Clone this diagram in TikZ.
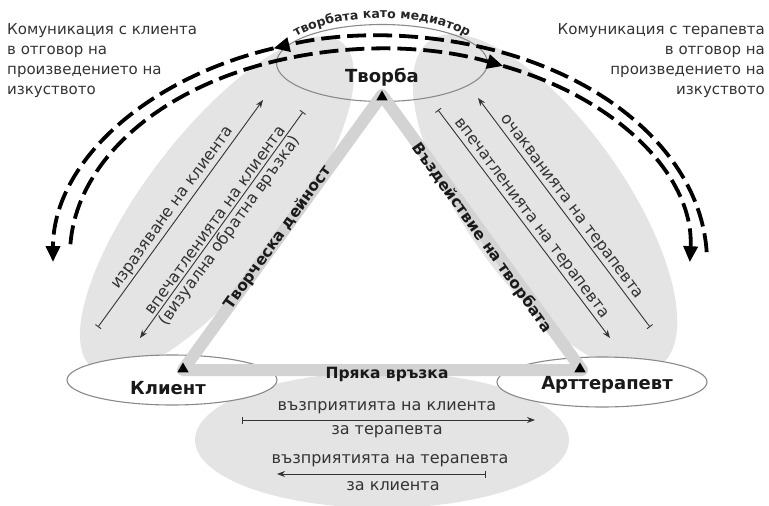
\documentclass[tikz,border=0pt]{standalone}
\usepackage{fontspec}
\setmainfont{DejaVu Sans}
\usetikzlibrary{arrows.meta,decorations.text,calc,shapes.geometric}
\definecolor{blob}{HTML}{E4E4E4}
\definecolor{band}{HTML}{D3D3D3}
\definecolor{ink}{HTML}{333333}
\definecolor{outl}{HTML}{8A8A8A}
\begin{document}
\begin{tikzpicture}[x=1pt,y=-1pt,
  vert/.style={ellipse, draw=outl, line width=1.1pt, inner sep=0},
  marker/.style={regular polygon, regular polygon sides=3, fill=black, inner sep=0, minimum size=13pt},
  bandline/.style={draw=band, line width=12pt, line join=round},
  vlabel/.style={font=\fontsize{18}{20}\selectfont\bfseries, text=black!90},
  blabel/.style={font=\fontsize{15.5}{18}\selectfont\bfseries, text=black!90},
  small/.style={font=\fontsize{16}{18}\selectfont, text=ink, inner sep=2pt},
  thin/.style={draw=ink, line width=0.9pt},
  corner/.style={font=\fontsize{15}{20}\selectfont, text=ink, inner sep=0},
  dasharc/.style={line width=3.8pt, dash pattern=on 19pt off 7pt, -{Triangle[length=16pt,width=14pt]}},
]
\useasboundingbox (0,0) rectangle (769,506);
% blobs
\fill[blob, rotate around={52.6:(217,205)}] (217,205) ellipse [x radius=205, y radius=72];
\fill[blob, rotate around={-54.7:(545,203)}] (545,203) ellipse [x radius=199, y radius=80];
\fill[blob] (382,440) ellipse [x radius=187, y radius=68];
% vertex ellipses
\node[vert, fill=white, minimum width=210pt, minimum height=50pt] (ek) at (172,380) {};
\node[vert, fill=white, minimum width=210pt, minimum height=50pt] (ea) at (602,382) {};
\node[vert, minimum width=211pt, minimum height=77pt] (et) at (382,63) {};
% triangle band
\coordinate (A) at (382,95);
\coordinate (K) at (183,370);
\coordinate (T) at (582,370);
\draw[bandline] (A) -- (K) -- (T) -- cycle;
\node[marker] (mA) at (382,97) {};
\node[marker] (mK) at (183,369) {};
\node[marker] (mT) at (580,369) {};
% vertex labels
\node[vlabel] (tvorba) at (382,77) {Творба};
\node[vlabel] (klient) at (168,388) {Клиент};
\node[vlabel] (art) at (607,385) {Арттерапевт};
\node[blabel] (pryaka) at (387,374) {Пряка връзка};
\node[blabel, rotate=54.4] (tvd) at (278,238) {Творческа дейност};
\node[blabel, rotate=-54.4] (vzd) at (482,238) {Въздействие на творбата};
% left blob lines
\coordinate (l1a) at (98,327); \coordinate (l1b) at (263,100);
\draw[thin, {Bar[width=7pt]}-{Stealth[length=8pt,width=6pt]}] (l1a) -- node[small, sloped, above] (t1) {изразяване на клиента} (l1b);
\coordinate (l2a) at (140,338); \coordinate (l2b) at (303,112);
\draw[thin, {Stealth[length=8pt,width=6pt]}-{Bar[width=7pt]}] (l2a) -- node[small, sloped, above] (t2) {впечатленията на клиента} node[small, sloped, below] (t3) {(визуална обратна връзка)} (l2b);
% right blob lines
\coordinate (r1a) at (478,98); \coordinate (r1b) at (650,327);
\draw[thin, {Stealth[length=8pt,width=6pt]}-{Bar[width=7pt]}] (r1a) -- node[small, sloped, above] (t4) {очакванията на терапевта} (r1b);
\coordinate (r2a) at (438,110); \coordinate (r2b) at (610,338);
\draw[thin, {Bar[width=7pt]}-{Stealth[length=8pt,width=6pt]}] (r2a) -- node[small, sloped, above] (t5) {впечатленията на терапевта} (r2b);
% bottom lines
\coordinate (b1a) at (242,420); \coordinate (b1b) at (535,420);
\draw[thin, {Bar[width=7pt]}-{Stealth[length=8pt,width=6pt]}] (b1a) -- (b1b);
\node[small] (bt1) at (387,408) {възприятията на клиента};
\node[small] (bt2) at (387,432) {за терапевта};
\coordinate (b2a) at (486,474); \coordinate (b2b) at (277,474);
\draw[thin, {Bar[width=7pt]}-{Stealth[length=8pt,width=6pt]}] (b2a) -- (b2b);
\node[small] (bt3) at (390,461) {възприятията на терапевта};
\node[small] (bt4) at (393,486) {за клиента};
% corner texts
\node[corner, anchor=north west, align=left] (cl) at (7,23) {Комуникация с клиента\\в отговор на\\произведението на\\изкуството};
\node[corner, anchor=north east, align=right] (cr) at (765,23) {Комуникация с терапевта\\в отговор на\\произведението на\\изкуството};
% dashed arcs
\coordinate (oc) at (380,262);
\coordinate (ic) at (380,255);
\draw[dasharc] ($(oc)+(-2.5:327 and 226)$) arc[start angle=-2.5, end angle=-109, x radius=327, y radius=226];
\draw[dasharc] ($(oc)+(-109:327 and 226)$) arc[start angle=-109, end angle=-180, x radius=327, y radius=226];
\draw[dasharc] ($(ic)+(-177:310 and 206)$) arc[start angle=-177, end angle=-66.6, x radius=310, y radius=206];
\draw[dasharc] ($(ic)+(-66.6:310 and 206)$) arc[start angle=-66.6, end angle=2, x radius=310, y radius=206];
% curved label
\coordinate (tc) at (382,63);
\path[decorate, decoration={text along path, text align=center, text={|\fontsize{12.5}{13}\selectfont\bfseries\color{black!85}|творбата като медиатор}}] ($(tc)+(210:105 and 45)$) arc[start angle=210, end angle=330, x radius=105, y radius=45];
\end{tikzpicture}
\end{document}
